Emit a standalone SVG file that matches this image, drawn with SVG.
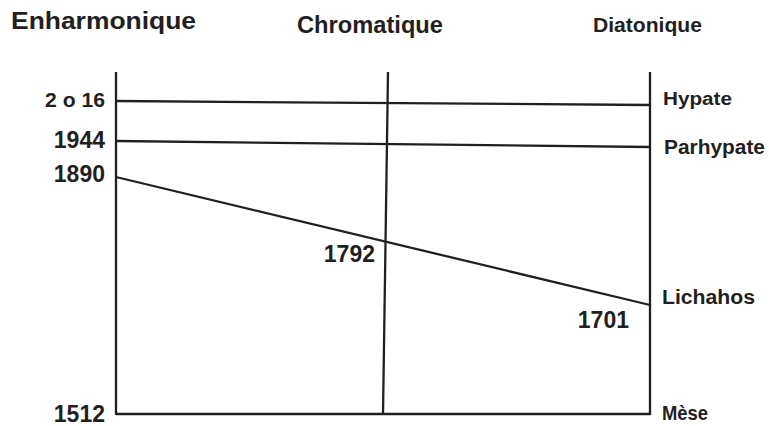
<svg xmlns="http://www.w3.org/2000/svg" width="769" height="426" viewBox="0 0 769 426">
<style>
.t{font-family:"Liberation Sans",Arial,sans-serif;font-weight:bold;fill:#231f20}
.l{stroke:#231f20;stroke-width:2.3;fill:none}
</style>
<rect width="769" height="426" fill="#fff"/>
<g id="connectors">
<line class="l" x1="116" y1="72" x2="116" y2="415"/>
<line class="l" x1="388" y1="72" x2="383" y2="415"/>
<line class="l" x1="650" y1="72" x2="650" y2="415"/>
<line class="l" x1="116" y1="101" x2="650" y2="105"/>
<line class="l" x1="116" y1="141" x2="650" y2="147"/>
<line class="l" x1="116" y1="177" x2="650" y2="305"/>
<line class="l" x1="116" y1="414" x2="650" y2="414"/>
</g>
<g id="headers">
<text class="t" x="11" y="29" font-size="24" textLength="185" lengthAdjust="spacingAndGlyphs">Enharmonique</text>
<text class="t" x="297" y="33" font-size="23" textLength="146" lengthAdjust="spacingAndGlyphs">Chromatique</text>
<text class="t" x="593" y="32" font-size="20" textLength="109" lengthAdjust="spacingAndGlyphs">Diatonique</text>
</g>
<g id="left-labels">
<text class="t" x="105" y="107" font-size="20" textLength="60" lengthAdjust="spacingAndGlyphs" text-anchor="end">2 o 16</text>
<text class="t" x="105" y="148" font-size="23" text-anchor="end">1944</text>
<text class="t" x="105" y="182" font-size="23" text-anchor="end">1890</text>
<text class="t" x="105" y="422" font-size="23" text-anchor="end">1512</text>
</g>
<g id="inner-labels">
<text class="t" x="375" y="262" font-size="23" text-anchor="end">1792</text>
<text class="t" x="629" y="328" font-size="23" text-anchor="end">1701</text>
</g>
<g id="right-labels">
<text class="t" x="663" y="105" font-size="19" textLength="69" lengthAdjust="spacingAndGlyphs">Hypate</text>
<text class="t" x="664" y="154" font-size="20" textLength="101" lengthAdjust="spacingAndGlyphs">Parhypate</text>
<text class="t" x="662" y="304" font-size="20" textLength="93" lengthAdjust="spacingAndGlyphs">Lichahos</text>
<text class="t" x="662" y="420" font-size="21" textLength="46" lengthAdjust="spacingAndGlyphs">Mèse</text>
</g>
</svg>
